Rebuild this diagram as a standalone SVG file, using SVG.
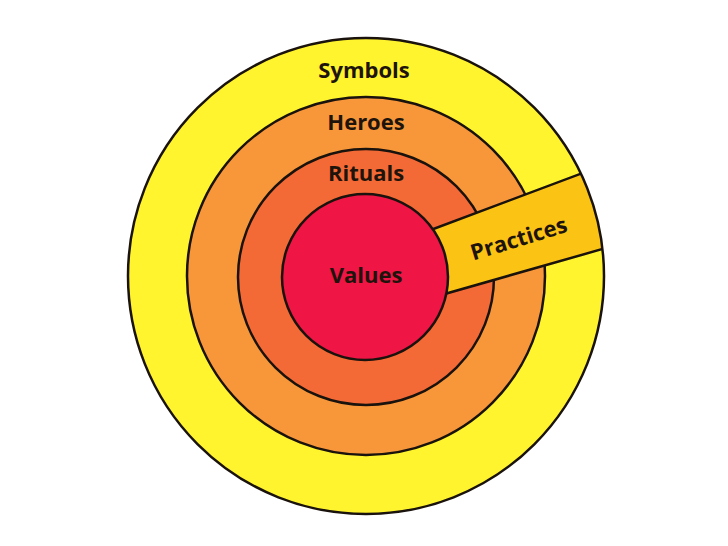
<svg xmlns="http://www.w3.org/2000/svg" width="728" height="546" viewBox="0 0 728 546">
  <style>
    .ring { stroke: #1a120c; stroke-width: 2.5; }
    .lbl { font-family: "Open Sans", Lato, "Liberation Sans", sans-serif; font-weight: 700; font-size: 22px; fill: #1e140c; text-anchor: middle; }
  </style>
  <defs>
    <clipPath id="outerClip">
      <circle cx="366" cy="276" r="238"/>
    </clipPath>
  </defs>
  <rect width="728" height="546" fill="#ffffff"/>
  <g id="symbols">
    <circle cx="366" cy="276" r="238" fill="#FFF42E"/>
  </g>
  <g id="heroes">
    <circle class="ring" cx="366" cy="276" r="179" fill="#F8973A"/>
  </g>
  <g id="rituals">
    <circle class="ring" cx="366" cy="277" r="128" fill="#F46A36"/>
  </g>
  <g id="practices">
    <polygon class="ring" clip-path="url(#outerClip)" points="420,234 620,159 620,244 420,301" fill="#FBC313"/>
  </g>
  <g id="values">
    <circle class="ring" cx="365" cy="277" r="83" fill="#EF1544"/>
  </g>
  <circle class="ring" cx="366" cy="276" r="238" fill="none"/>
  <g id="labels">
    <text class="lbl" x="364" y="78">Symbols</text>
    <text class="lbl" x="366" y="130">Heroes</text>
    <text class="lbl" x="366" y="181">Rituals</text>
    <text class="lbl" x="366" y="283" fill="#2a0810">Values</text>
    <text class="lbl" x="521" y="246" transform="rotate(-17 521 246)">Practices</text>
  </g>
</svg>
